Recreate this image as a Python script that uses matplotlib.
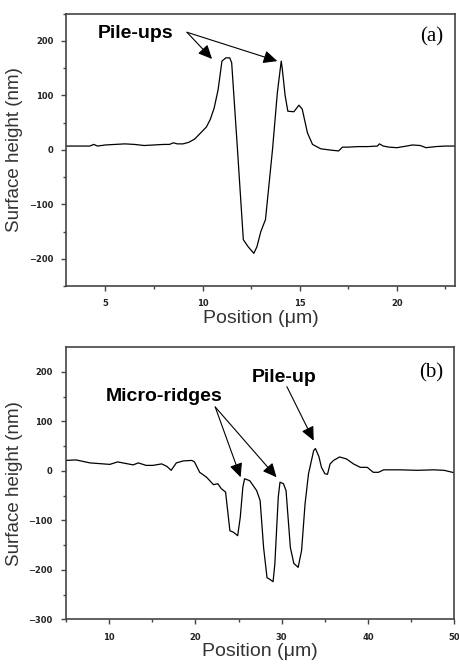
import matplotlib
matplotlib.use("Agg")
import matplotlib.pyplot as plt

# Panel (a) profile
xa = [3.0, 4.2, 4.4, 4.6, 5.0, 5.5, 6.0, 6.5, 7.0, 7.5, 8.0, 8.3, 8.5, 8.7, 9.0, 9.3,
      9.6, 9.9, 10.2, 10.4, 10.6, 10.8, 11.0, 11.2, 11.4, 11.5, 11.8, 12.1, 12.35, 12.64,
      12.8, 13.0, 13.24, 13.6, 13.85, 14.05, 14.1, 14.25, 14.39, 14.7, 14.96, 15.13,
      15.4, 15.66, 16.08, 16.5, 17.0, 17.2, 17.5, 18.0, 18.5, 19.0, 19.1, 19.3, 19.6,
      20.0, 20.5, 20.8, 21.2, 21.5, 22.0, 22.5, 23.0]
ya = [7, 7, 10, 7, 9, 10, 11, 10, 8, 9, 10, 10, 13, 11, 11, 14,
      20, 31, 42, 56, 77, 110, 163, 169, 169, 160, 0, -165, -178, -190,
      -178, -150, -128, 0, 105, 163, 150, 100, 71, 70, 82, 75,
      31, 10, 2, 0, -2, 5, 5, 6, 6, 7, 11, 7, 5,
      4, 7, 9, 8, 4, 6, 7, 7]

# Panel (b) profile
xb = [5.0, 6.2, 7.8, 10.1, 11.0, 12.8, 13.4, 14.3, 15.1, 16.1, 16.7, 17.2, 17.8, 18.6,
      19.6, 19.9, 20.5, 21.3, 22.1, 22.6, 23.0, 23.5, 24.0, 24.4, 24.9, 25.2, 25.5,
      25.7, 26.3, 27.1, 27.5, 27.9, 28.3, 28.6, 29.0, 29.2, 29.6, 29.8, 30.2, 30.5,
      31.0, 31.4, 31.9, 32.3, 32.7, 33.1, 33.7, 33.9, 34.3, 34.6, 35.0, 35.3, 35.6,
      36.0, 36.7, 37.5, 38.3, 39.1, 39.9, 40.6, 41.2, 41.8, 43.7, 45.7, 47.6, 48.8, 50.0]
yb = [21, 22, 16, 13, 18, 12, 16, 11, 11, 14, 9, 1, 16, 20,
      21, 18, -3, -13, -28, -26, -36, -43, -121, -124, -131, -94, -33,
      -16, -20, -40, -60, -155, -216, -219, -224, -189, -53, -23, -26, -40,
      -155, -187, -195, -161, -67, -6, 41, 45, 29, 7, -6, -7, 14,
      21, 28, 24, 14, 7, 7, -3, -3, 2, 2, 1, 2, 1, -4]

xticks_a = [5, 10, 15, 20]
yticks_a = [-200, -100, 0, 100, 200]
xticks_b = [10, 20, 30, 40, 50]
yticks_b = [-300, -200, -100, 0, 100, 200]

fig = plt.figure(figsize=(4.6, 6.64), dpi=100)
axa = fig.add_axes([0.1445, 0.5693, 0.845, 0.41])
axb = fig.add_axes([0.1430, 0.0673, 0.845, 0.41])

spine_col = "#444444"
label_col = "#333333"

def style(ax, xlim, ylim, xt, yt, xminor, yminor):
    ax.set_xlim(*xlim)
    ax.set_ylim(*ylim)
    ax.set_xticks(xt)
    ax.set_yticks(yt)
    ax.set_xticks(xminor, minor=True)
    ax.set_yticks(yminor, minor=True)
    for s in ax.spines.values():
        s.set_color(spine_col)
        s.set_linewidth(1.2)
    ax.tick_params(which="major", direction="out", length=3.5, width=1, color=spine_col,
                   labelsize=6, pad=6)
    ax.tick_params(which="minor", direction="out", length=2, width=1, color=spine_col)
    for lab in ax.get_xticklabels() + ax.get_yticklabels():
        lab.set_fontweight("bold")
        lab.set_color("#222222")
    ax.set_ylabel("Surface height (nm)", fontsize=13.5, color=label_col,
                  family="Liberation Sans", labelpad=4)
    ax.set_xlabel("Position (\u03bcm)", fontsize=14, color=label_col,
                  family="Liberation Sans", labelpad=1)

axa.plot(xa, ya, color="black", lw=0.9)
style(axa, (3, 23), (-250, 250), xticks_a, yticks_a,
      [2.5 * i for i in range(2, 10)], [-250, -150, -50, 50, 150, 250])
axb.plot(xb, yb, color="black", lw=0.9)
style(axb, (5, 50), (-300, 250), xticks_b, yticks_b,
      [5 + 10 * i for i in range(5)], [-250, -150, -50, 50, 150])

ann_font = dict(family="Liberation Sans", fontweight="bold", fontsize=14, color="black")
arrow = dict(arrowstyle="-|>,head_length=0.6,head_width=0.28", mutation_scale=14, lw=0.8,
             color="black", shrinkA=0, shrinkB=0)

# (a) annotations
axa.text(4.6, 213, "Pile-ups", va="center", ha="left", **ann_font)
axa.annotate("", xy=(10.49, 167), xytext=(9.2, 216), arrowprops=arrow)
axa.annotate("", xy=(13.85, 163), xytext=(9.2, 216), arrowprops=arrow)
axa.text(21.8, 207, "(a)", family="Liberation Serif", fontsize=15, ha="center", va="center")

# (b) annotations
axb.text(9.6, 151, "Micro-ridges", va="center", ha="left", **ann_font)
axb.annotate("", xy=(25.24, -13), xytext=(22.3, 129), arrowprops=arrow)
axb.annotate("", xy=(29.4, -13), xytext=(22.3, 129), arrowprops=arrow)
axb.text(26.55, 189, "Pile-up", va="center", ha="left", **ann_font)
axb.annotate("", xy=(33.7, 61), xytext=(30.6, 170), arrowprops=arrow)
axb.text(47.3, 197, "(b)", family="Liberation Serif", fontsize=15, ha="center", va="center")

fig.savefig("out.png", dpi=100)
